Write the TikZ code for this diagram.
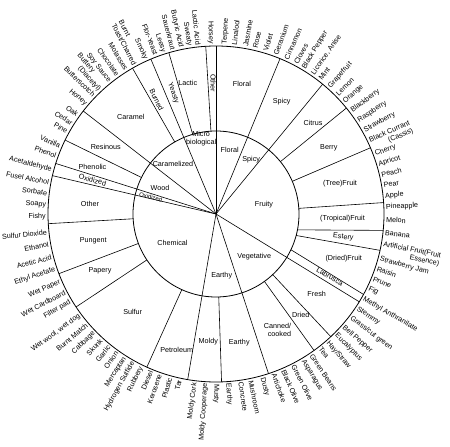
\documentclass[tikz,border=0pt]{standalone}
\usepackage{fontspec}
\setsansfont{Liberation Sans}
\begin{document}
\begin{tikzpicture}[
  x=1pt, y=1pt,
  every node/.style={font=\sffamily\fontsize{7.2}{8}\selectfont, inner sep=1pt},
  rim/.style={line width=0.8pt},
  spoke/.style={line width=0.6pt},
  leafr/.style={anchor=west, align=right},
  leafl/.style={anchor=east, align=left},
  tiny/.style={font=\sffamily\fontsize{6}{6}\selectfont, inner sep=0pt},
]
\useasboundingbox (-216,-233) rectangle (234,214);

\draw[rim] (0,0) circle (168);
\draw[rim] (0,0) circle (83);

% first ring
\foreach \a in {90,67.6,50.6,-71.8,-99.7,166.8,162.5,142.2,112.8}
  \draw[spoke] (0,0) -- (\a:168);
\draw[spoke] (0,0) -- (-31.5:168);
% second ring
\foreach \a in {93.5,106.3,119.8,153.9,183.3,200.8,213.6,245.7,-88.1,-54.3,-46.9,3.9,23.2,39.1}
  \draw[spoke] (\a:83) -- (\a:168);
\draw[spoke] (-11:83) -- (-5.6:168);
\draw[spoke] (-15:83) -- (-12.5:168);
\draw[spoke] (-25.5:83) -- (-28.6:168);

\node (micro) at (-14.8,75.3) [align=center] {Micro\\biological};
\node (floralhub) at (13.7,64) {Floral};
\node (spicyhub) at (35.2,54.7) {Spicy};
\node (fruity) at (48,9) {Fruity};
\node (veget) at (38.2,-42.7) {Vegetative};
\node (earthyhub) at (5.7,-61.7) {Earthy};
\node (chem) at (-43.5,-28.7) {Chemical};
\node[tiny, rotate=-14] (oxhub) at (-65.2,16.7) {Oxidized};
\node (wood) at (-56,26.3) {Wood};
\node (caramelized) at (-43,49.7) {Caramelized};

\node (caramel) at (-85.2,97.3) {Caramel};
\node[rotate=-64] (burned) at (-59.3,114) {Burned};
\node[rotate=-71] (yeasty) at (-42.7,120.7) {Yeasty};
\node (lactic) at (-28.3,130.7) {Lactic};
\node[rotate=-90] (othermicro) at (-2.7,130.7) {Other};
\node (floral) at (26,130) {Floral};
\node (spicy) at (65.7,112.3) {Spicy};
\node (citrus) at (97,91.3) {Citrus};
\node (berry) at (112.8,66.3) {Berry};
\node (tree) at (124,30) {(Tree)Fruit};
\node (tropical) at (126.5,-4.3) {(Tropical)Fruit};
\node[rotate=-6] (estery) at (127.3,-23.3) {Estery};
\node (driedfruit) at (127.7,-45) {(Dried)Fruit};
\node[rotate=-30] (labrusca) at (113.9,-62.6) {Labrusca};
\node (fresh) at (100.7,-80.3) {Fresh};
\node (dried) at (84.8,-101) {Dried};
\node[align=right] (canned) at (61.5,-116) {Canned/\\cooked};
\node (earthy) at (23.2,-128.7) {Earthy};
\node (moldy) at (-7.7,-127.7) {Moldy};
\node (petroleum) at (-39.3,-136) {Petroleum};
\node (sulfur) at (-83.3,-97.7) {Sulfur};
\node (papery) at (-116,-57) {Papery};
\node (pungent) at (-122.7,-26.7) {Pungent};
\node (otherchem) at (-126,10) {Other};
\node[rotate=-14.6] (oxidized) at (-123.5,34) {Oxidized};
\node (phenolic) at (-123.5,47.3) {Phenolic};
\node (resinous) at (-110.2,66.7) {Resinous};

\foreach \a/\t [count=\i] in {87/{Terpene}, 83.8/{Linalool}, 80/{Jasmine}, 76.7/{Rose},
  73.1/{Violet}, 69.5/{Geranium}, 65.6/{Cinnamon}, 62/{Cloves}, 58.9/{Black Pepper},
  55.3/{Licorice, Anise}, 52.3/{Mint}, 48.2/{Grapefruit}, 44.6/{Lemon}, 41.1/{Orange},
  37.1/{Blackberry}, 33.2/{Raspberry}, 29.3/{Strawberry}, 24.1/{Black Currant\\(Cassis)},
  20.6/{Cherry}, 17/{Apricot}, 13.4/{Peach}, 9.7/{Pear}, 6/{Apple}, 2.3/{Pineapple},
  -2/{Melon}, -6.4/{Banana}, -11.6/{Artificial Fruit(Fruit\\Essence)}, -15.4/{Strawberry Jam},
  -18.8/{Raisin}, -22.4/{Prune}, -26/{Fig}, -29.9/{Methyl Anthranilate}, -33.8/{Stemmy},
  -37.5/{Grass/cut green}, -41.5/{Bell Pepper}, -45.1/{Eucalyptus}, -49/{Hay/Straw},
  -52.2/{Tea}, -55.9/{Green Beans}, -59.2/{Asparagus}, -62.9/{Green Olive},
  -66.6/{Black Olive}, -70.1/{Artichoke}, -74.2/{Dusty}, -78.2/{Mushroom},
  -81.6/{Concrete}, -85.9/{Earthy}, -90/{Musty}}
  \node[leafr, rotate=\a] (r\i) at (\a:169) {\t};

\foreach \a/\t [count=\i] in {91.7/{Horsey}, 96/{Lactic Acid}, 99/{Sweaty},
  101.9/{Butyric Acid}, 104.6/{Sauerkraut}, 108/{Leesy}, 110.7/{Flor-Yeast},
  114.4/{Smoky}, 117.3/{Burnt\\Toast/Charred}, 121.8/{Molasses}, 125.3/{Chocolate},
  128.7/{Soy Sauce}, 131.9/{Buttery\\\hspace*{10pt}(Diacetyl)}, 135.8/{Butterscotch}, 139.8/{Honey},
  144.4/{Oak}, 147.8/{Cedar}, 151/{Pine}, 156.4/{Vanilla}, 160/{Phenol},
  165/{Acetaldehyde}, 169.2/{Fusel Alcohol}, 172.9/{Sorbate}, 176.9/{Soapy},
  180.9/{Fishy}, 186.1/{Sulfur Dioxide}, 190.3/{Ethanol}, 194.7/{Acetic Acid},
  198.9/{Ethyl Acetate}, 203.6/{Wet Paper}, 207.4/{Wet Cardboard}, 211/{Filter pad},
  216.6/{Wet wool, wet dog}, 220.6/{Burnt Match}, 224.2/{Cabbage}, 227.6/{Skunk},
  231/{Garlic}, 234.3/{Onion}, 237.6/{Mercaptan}, 240.8/{Hydrogen Sulfide},
  244/{Rubbery}, 247.5/{Diesel}, 250.7/{Kerosene}, 254.3/{Plastic}, 257.6/{Tar},
  262.8/{Moldy Cork}, 266.4/{Moldy Cooperage}}
  \node[leafl, rotate=\a-180] (l\i) at (\a:169) {\t};
\end{tikzpicture}
\end{document}
